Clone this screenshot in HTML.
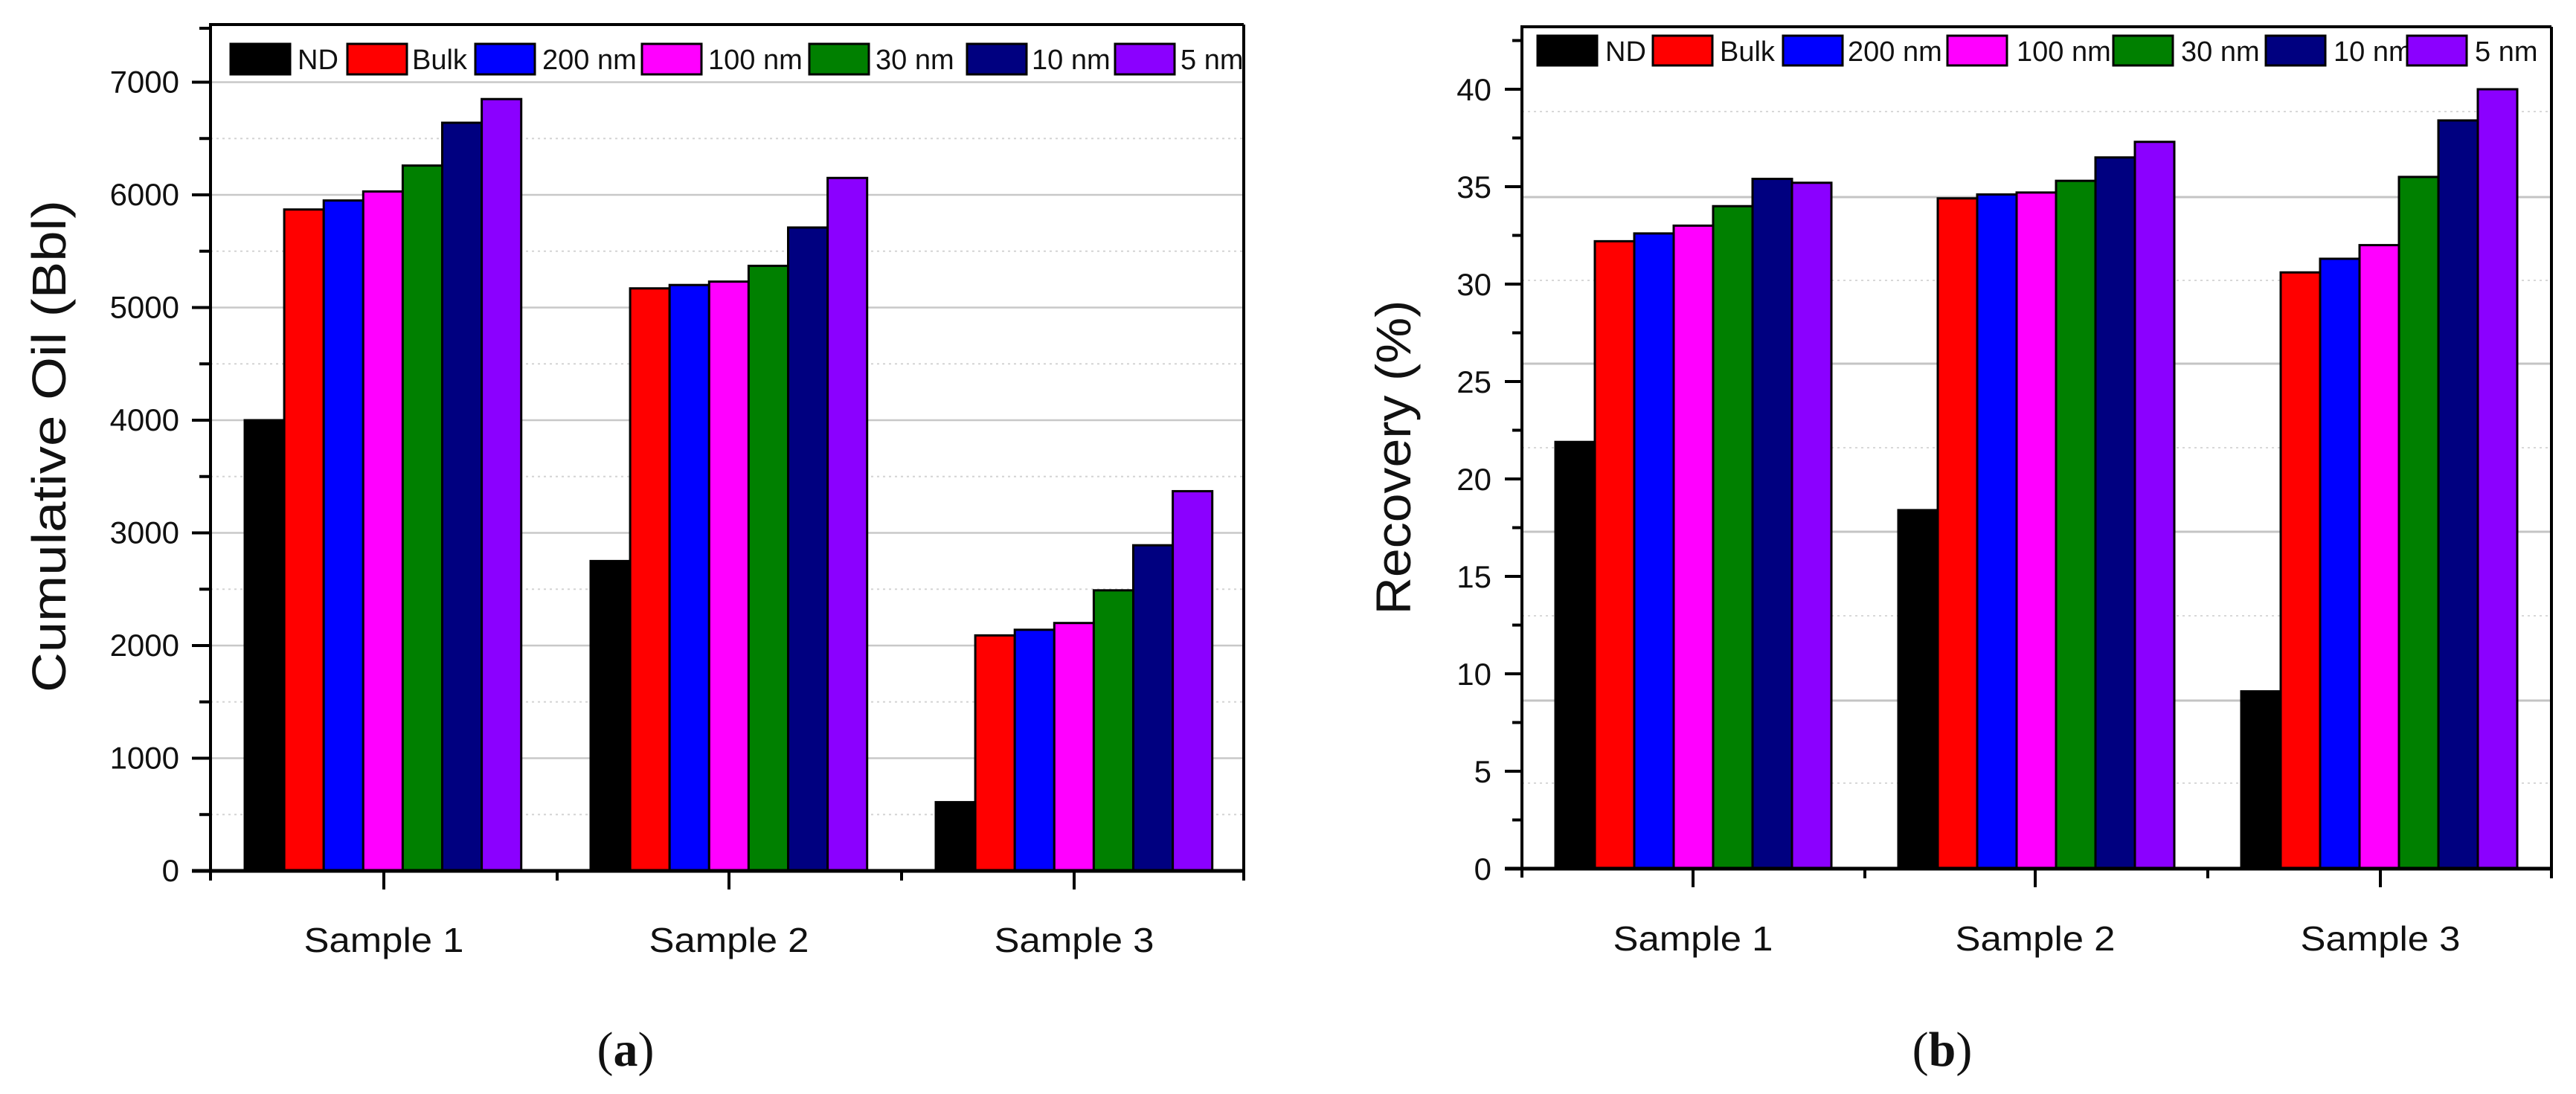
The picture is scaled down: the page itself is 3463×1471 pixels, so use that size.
<!DOCTYPE html>
<html><head><meta charset="utf-8">
<style>
html,body{margin:0;padding:0;background:#fff;}
svg{display:block;}
text{font-family:"Liberation Sans",Arial,sans-serif;fill:#111;}
.cal{font-family:"Liberation Sans",sans-serif;}
.ser{font-family:"Liberation Serif",serif;}
</style></head>
<body>
<svg id="s" width="3463" height="1471" viewBox="0 0 3463 1471" xmlns="http://www.w3.org/2000/svg"></svg>
<script>
const S=document.getElementById('s');let h='';
const cols=['#000000','#ff0000','#0000ff','#ff00ff','#008000','#000080','#8b00ff'];
const names=['ND','Bulk','200 nm','100 nm','30 nm','10 nm','5 nm'];
function r(x,y,w,hh,f,extra){h+=`<rect x="${x}" y="${y}" width="${w}" height="${hh}" fill="${f}" ${extra||''}/>`;}
function l(x1,y1,x2,y2,c,w,d){h+=`<line x1="${x1}" y1="${y1}" x2="${x2}" y2="${y2}" stroke="${c}" stroke-width="${w}" ${d?`stroke-dasharray="${d}"`:''}/>`;}
function t(x,y,s,fs,a,extra){h+=`<text x="${x}" y="${y}" font-size="${fs}" text-anchor="${a||'start'}" ${extra||''}>${s}</text>`;}

// ===== Chart A =====
{
const L=283,R=1672,T=33,B=1171;const y=v=>B-v*0.1515;
for(let v=500;v<=7000;v+=500){const yy=y(v);if(v%1000==0)l(L,yy,R,yy,'#c8c8c8',2.5);else l(L,yy,R,yy,'#d4d4d4',2,'3 5');}
const data=[[4000,5870,5950,6030,6260,6640,6850],[2750,5170,5200,5230,5370,5710,6150],[610,2090,2140,2200,2490,2890,3370]];
const x0=[329,794,1258],bw=53.1;
data.forEach((g,gi)=>g.forEach((v,i)=>{r(x0[gi]+i*bw,y(v),bw,B-y(v),cols[i],'stroke="#000" stroke-width="3"');}));
// axes
l(L,T,L,B+2,'#000',4);l(L-2,T,R,T,'#000',4);l(R,T,R,B,'#000',4);l(L-25,B,R+2,B,'#000',5);
for(let v=0;v<=7000;v+=500){const yy=y(v);if(v%1000==0){l(L-25,yy,L,yy,'#000',4);t(241,yy+14,v,42,'end');}else l(L-15,yy,L,yy,'#000',4);}
l(L-15,T+5,L,T+5,'#000',4);
[516,980,1444].forEach(x=>l(x,B,x,B+25,'#000',4));
[L,749,1212,R].forEach(x=>l(x,B,x,B+13,'#000',4));
['Sample 1','Sample 2','Sample 3'].forEach((s,i)=>t([516,980,1444][i],1280,s,46,'middle','class="cal" textLength="215" lengthAdjust="spacingAndGlyphs" fill="#222"'));
h+=`<text transform="translate(88,600) rotate(-90)" font-size="64" text-anchor="middle" textLength="662" lengthAdjust="spacingAndGlyphs" fill="#111">Cumulative Oil (Bbl)</text>`;
// legend
const bx=[310,467,639,863,1088,1300,1499],tx=[400,554,729,952,1177,1387,1587];
names.forEach((n,i)=>{r(bx[i],59,80,41,cols[i],'stroke="#000" stroke-width="3"');t(tx[i],93,n,38,'start');});
t(841,1433,'(<tspan font-weight="bold">a</tspan>)',66,'middle','class="ser"');
}
// ===== Chart B =====
{
const L=2046,R=3430,T=36,B=1168;const y=v=>B-v*26.2;
[265,489,715,942].forEach(yy=>l(L,yy,R,yy,'#c4c4c4',3));
[150,377,602,828,1053].forEach(yy=>l(L,yy,R,yy,'#d8d8d8',2,'3 5'));
const data=[[21.9,32.2,32.6,33.0,34.0,35.4,35.2],[18.4,34.4,34.6,34.7,35.3,36.5,37.3],[9.1,30.6,31.3,32.0,35.5,38.4,40.0]];
const x0=[2091,2552,3013],bw=53;
data.forEach((g,gi)=>g.forEach((v,i)=>{r(x0[gi]+i*bw,y(v),bw,B-y(v),cols[i],'stroke="#000" stroke-width="3"');}));
l(L,T,L,B+12,'#000',4);l(L-2,T,R,T,'#000',4);l(R,T,R,B,'#000',4);l(L-23,B,R+2,B,'#000',5);
for(let v=0;v<=42.5;v+=2.5){const yy=y(v);if(v%5==0){l(L-23,yy,L,yy,'#000',4);t(2005,yy+15,v,42,'end');}else l(L-13,yy,L,yy,'#000',4);}
[2276,2736,3200].forEach(x=>l(x,B,x,B+25,'#000',4));
[2507,2968,R].forEach(x=>l(x,B,x,B+13,'#000',4));
['Sample 1','Sample 2','Sample 3'].forEach((s,i)=>t([2276,2736,3200][i],1278,s,46,'middle','class="cal" textLength="215" lengthAdjust="spacingAndGlyphs" fill="#222"'));
h+=`<text transform="translate(1896,615) rotate(-90)" font-size="66" text-anchor="middle" textLength="423" lengthAdjust="spacingAndGlyphs" fill="#111">Recovery (%)</text>`;
const bx=[2067,2222,2397,2618,2841,3046,3236],tx=[2158,2312,2484,2711,2932,3137,3327];
names.forEach((n,i)=>{r(bx[i],48,80,40,cols[i],'stroke="#000" stroke-width="3"');t(tx[i],82,n,38,'start');});
t(2611,1433,'(<tspan font-weight="bold">b</tspan>)',66,'middle','class="ser"');
}
S.innerHTML=h;
</script>
</body></html>
